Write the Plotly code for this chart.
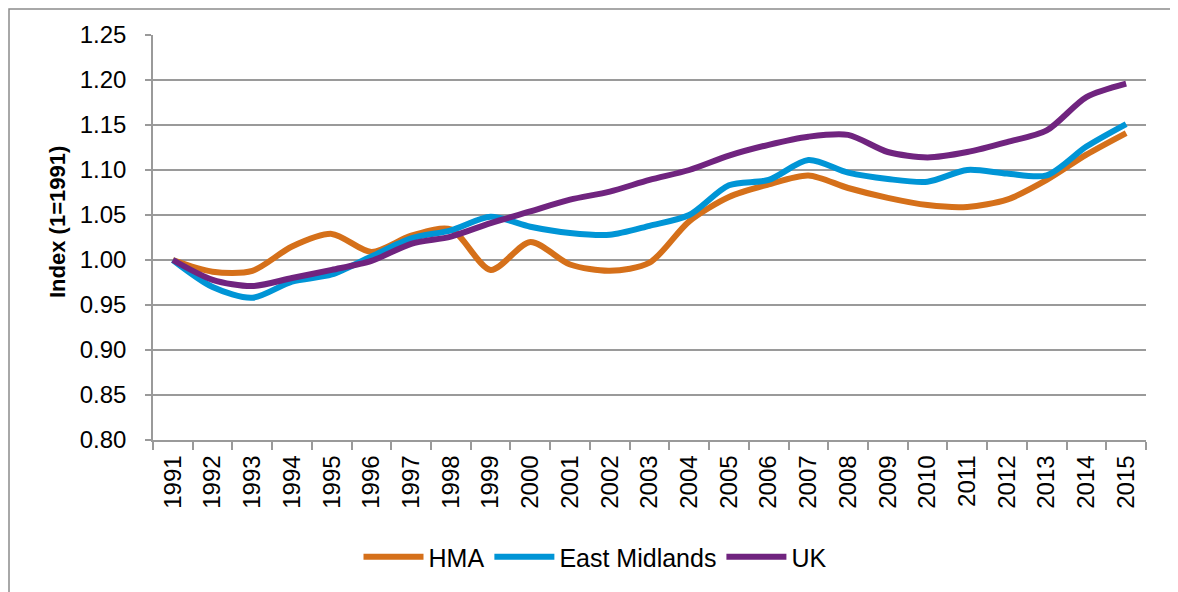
import plotly.graph_objects as go

years = [str(y) for y in range(1991, 2016)]
hma = [1.000, 0.987, 0.988, 1.015, 1.029, 1.009, 1.027, 1.034, 0.989, 1.020,
       0.995, 0.988, 0.997, 1.043, 1.070, 1.084, 1.094, 1.080, 1.069, 1.061,
       1.059, 1.067, 1.089, 1.117, 1.141]
east_midlands = [1.000, 0.970, 0.958, 0.976, 0.984, 1.004, 1.024, 1.033, 1.048, 1.037,
                 1.030, 1.028, 1.038, 1.050, 1.083, 1.089, 1.111, 1.097, 1.090, 1.087,
                 1.100, 1.096, 1.094, 1.126, 1.151]
uk = [1.000, 0.978, 0.971, 0.980, 0.989, 0.999, 1.018, 1.026, 1.041, 1.054,
      1.067, 1.076, 1.089, 1.100, 1.116, 1.128, 1.137, 1.139, 1.120, 1.114,
      1.120, 1.131, 1.144, 1.181, 1.196]
y_ticks = [0.80, 0.85, 0.90, 0.95, 1.00, 1.05, 1.10, 1.15, 1.20, 1.25]

series = [("HMA", hma, "#D5701A"),
          ("East Midlands", east_midlands, "#0095D6"),
          ("UK", uk, "#70247F")]

fig = go.Figure()
for name, vals, col in series:
    fig.add_trace(go.Scatter(x=years, y=vals, name=name, mode="lines",
                             line=dict(color=col, width=6, shape="spline", smoothing=0.8)))

FONT = "Liberation Sans, Arial, sans-serif"
GRID = "#9a9a9a"
OFF = 8  # page body margin offset
W, H = 1178 - OFF, 592 - OFF
L, R, T, B = 153 - OFF, 1146 - OFF, 35 - OFF, 440 - OFF
pw, ph = R - L, B - T


def px(xp):
    return (xp - OFF - L) / pw


def py(yp):
    return (B - (yp - OFF)) / ph


fig.update_layout(
    width=W, height=H,
    margin=dict(l=L, r=W - R, t=T, b=H - B, pad=0),
    paper_bgcolor="white", plot_bgcolor="white",
    font=dict(family=FONT, size=24, color="black"),
    showlegend=True,
    legend=dict(orientation="h", x=px(595), xanchor="center",
                y=py(557), yanchor="middle",
                font=dict(size=25), itemwidth=60, tracegroupgap=0,
                bgcolor="rgba(0,0,0,0)"),
    xaxis=dict(type="category", range=[-0.5, 24.5], tickangle=-90,
               showgrid=False, showline=True, linecolor=GRID, linewidth=1.5,
               ticks="outside", ticklen=8, tickcolor=GRID, tickwidth=1.5,
               tickson="boundaries", tickfont=dict(size=24),
               ticklabelstandoff=4, fixedrange=True),
    yaxis=dict(range=[0.80, 1.25], tickvals=y_ticks,
               ticktext=[f"{v:.2f}" for v in y_ticks],
               showgrid=True, gridcolor=GRID, gridwidth=1.5,
               showline=True, linecolor=GRID, linewidth=1.5,
               ticks="outside", ticklen=6, tickcolor=GRID, tickwidth=1.5,
               ticklabelstandoff=14, tickfont=dict(size=24), zeroline=False,
               fixedrange=True),
    annotations=[dict(text="<b>Index (1=1991)</b>", textangle=-90,
                      xref="paper", yref="paper",
                      x=px(58), y=py(222),
                      xanchor="center", yanchor="middle", showarrow=False,
                      font=dict(size=22, family=FONT, color="black"))],
    shapes=[dict(type="rect", xref="paper", yref="paper",
                 x0=px(OFF + 1), x1=px(1173),
                 y0=py(620), y1=py(OFF + 1),
                 line=dict(color="#8c8c8c", width=1.5), fillcolor="rgba(0,0,0,0)",
                 layer="below")],
)

fig.write_html("out.html")
